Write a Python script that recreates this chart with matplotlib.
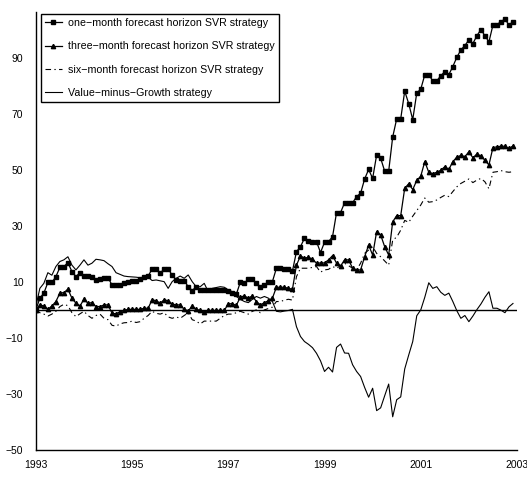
import numpy as np
import matplotlib.pyplot as plt

plt.rcParams['font.family'] = ['Liberation Sans', 'DejaVu Sans']

# monthly cumulative returns, Jan 1993 - Dec 2002
one_month = [
    0, 4.2, 6, 9.8, 9.8, 11.9, 15.2, 15.5, 16.9, 13.7,
    11.9, 13.3, 12.1, 12.1, 11.9, 10.7, 11, 11.3, 11.5, 8.9,
    8.9, 8.9, 9.5, 10.1, 10.5, 10.5, 11, 11.7, 12.1, 14.6,
    14.6, 13.1, 14.6, 14.6, 12.5, 10.7, 10.5, 10.5, 8.3, 6.9,
    8.3, 7.1, 7.1, 7.1, 7.1, 7.1, 7.1, 7.1, 6.9, 6.2,
    5.6, 9.9, 9.5, 11, 11, 9.5, 8.3, 8.9, 10.1, 10.1,
    14.9, 14.9, 14.6, 14.6, 13.9, 20.8, 22.6, 25.6, 24.8, 24.4,
    24.4, 20.5, 24.2, 24.4, 26.2, 34.8, 34.8, 38.3, 38.3, 38.3,
    40.5, 41.7, 46.8, 50.2, 47, 55.4, 54.2, 49.6, 49.6, 61.8,
    68.3, 68.3, 78.2, 73.7, 68, 77.5, 78.9, 84, 84, 81.9,
    81.9, 83.7, 85.2, 84.1, 87, 90.3, 92.9, 94.5, 96.5, 95.2,
    98, 100.2, 98, 95.8, 101.8, 102, 103, 104, 101.8, 103,
]

three_month = [
    0, 1.8, 1.4, 0.2, 1.4, 3, 6, 6.2, 7.4, 4.2,
    2.4, 1.4, 3.8, 2.4, 2.6, 1.2, 1.2, 1.8, 1.8, -1.2,
    -1.4, -0.6, -0.2, 0.2, 0.2, 0.2, 0.2, 0.6, 0.6, 3.6,
    3.3, 2.4, 3.6, 3.3, 2.1, 1.8, 1.8, 0.2, -0.4, 1.4,
    0.2, -0.2, -0.8, -0.2, -0.2, -0.2, -0.2, -0.2, 2.2, 2.2,
    1.6, 4.6, 5, 4.2, 5, 3, 1.8, 2.6, 3.3, 4.2,
    8.1, 8.1, 8.1, 7.7, 7.4, 16, 19.3, 18.5, 18.8, 18.1,
    16.7, 16.8, 16.8, 17.9, 19.4, 16.7, 15.7, 17.9, 17.9, 14.9,
    14.3, 14.3, 19, 23.2, 19.6, 28, 26.8, 22.6, 19.6, 31.5,
    33.7, 33.7, 43.5, 45.1, 43, 46.3, 47.8, 53, 49.2, 48.7,
    49.2, 49.9, 51.2, 50.2, 53, 54.6, 55.2, 54.8, 56.5, 54.4,
    55.7, 55, 53.5, 51.8, 58, 58.3, 58.5, 58.5, 57.7, 58.6,
]

six_month = [
    0, -1, -1.5, -2.2, -1.5, -0.5, 1.2, 2, 1.5, -1,
    -2.4, -1.4, -0.5, -2, -3, -2, -1.5, -3, -3.5, -5.5,
    -5.8, -5, -4.6, -4.5, -4, -4.5, -4.2, -3, -2, -0.5,
    -1.2, -1.5, -1, -2.5, -3, -2.5, -3, -2, -1, -3.5,
    -4, -5, -4, -4, -4, -4, -3, -2, -1.5, -1.5,
    -1, -0.5, -1, -1.5, -0.5, 0, -1, 0, 0.5, 1,
    3, 3, 3.5, 3.8, 3.5, 11.9, 14.9, 14.9, 14.9, 15.2,
    15.5, 13.5, 14.3, 14.5, 15.5, 14.9, 15.8, 16.7, 15.8, 14.9,
    14.3, 16.7, 20.2, 21.4, 22.6, 20.2, 19, 17.5, 16, 25,
    26, 28.5, 32, 31.3, 33.5, 35.5, 37.5, 40, 38.5, 38.7,
    39.3, 40.2, 41, 40.5, 42.3, 44, 45.2, 46, 46.8, 45.5,
    46.4, 47, 45.8, 43.3, 49.2, 49.4, 49.8, 49.4, 49.2, 49.4,
]

value_growth = [
    1.2, 7.7, 9.5, 13.3, 12.4, 15.5, 17.3, 17.9, 19, 16,
    14.3, 16, 17.9, 16, 16.7, 18.1, 17.9, 17.6, 16.5, 15.5,
    13.3, 12.7, 12.1, 11.9, 11.8, 11.7, 11.5, 11.3, 11.7, 10.5,
    10.7, 10.4, 10.1, 7.7, 10.1, 11.3, 12.1, 11.3, 12.5, 10.1,
    8.3, 8.3, 9.5, 6.5, 7.7, 8, 8.3, 8.1, 7.1, 6.5,
    4.8, 3.8, 3, 2.6, 3.8, 4.8, 4.2, 4.8, 4.2, 3,
    -0.5, -0.7, -0.4, -0.2, 0.2, -6, -9.5, -11.3, -12.3, -13.5,
    -15.5, -18.2, -22, -20.5, -22.2, -13.4, -12.2, -15.4, -15.5, -19.6,
    -22, -23.8, -27.7, -31.2, -28, -36, -35, -30.7, -26.5, -38.2,
    -32.1, -31.1, -21.1, -16.1, -11.3, -2.1, 0, 4.5, 9.7, 7.7,
    8.3, 6.3, 5.2, 6, 3, -0.3, -3, -2, -4.2, -2.2,
    0.1, 2.1, 4.5, 6.5, 0.6, 0.6, -0.1, -1, 1.1, 2.3,
]

dates = 1993 + np.arange(len(one_month)) / 12.0

year_ticks = [1993, 1995, 1997, 1999, 2001, 2003]
y_ticks = [-50, -30, -10, 10, 30, 50, 70, 90]

fig = plt.figure(figsize=(5.27, 4.78), dpi=100)
ax = fig.add_axes([0.068, 0.059, 0.913, 0.916])

ax.plot(dates, one_month, color='black', lw=0.9, marker='s', markersize=2.6,
        label='one\u2212month forecast horizon SVR strategy')
ax.plot(dates, three_month, color='black', lw=0.9, marker='^', markersize=3.1,
        label='three\u2212month forecast horizon SVR strategy')
ax.plot(dates, six_month, color='black', lw=0.8, dashes=(5, 3, 1.2, 3),
        label='six\u2212month forecast horizon SVR strategy')
ax.plot(dates, value_growth, color='black', lw=0.8,
        label='Value\u2212minus\u2212Growth strategy')
ax.axhline(0, color='black', lw=1.0)

ax.set_xlim(1993, 2003)
ax.set_ylim(-50, 106.5)
ax.set_xticks(year_ticks)
ax.set_yticks(y_ticks)
ax.set_yticklabels([str(v).replace('-', '\u2212') for v in y_ticks])
ax.tick_params(length=0, labelsize=7.5, pad=7)
ax.tick_params(axis='y', pad=9)

for s in ['top', 'right']:
    ax.spines[s].set_visible(False)
for s in ['left', 'bottom']:
    ax.spines[s].set_linewidth(1.0)

leg = ax.legend(loc='upper left', bbox_to_anchor=(0.0105, 0.995), fontsize=7.7,
                frameon=True, fancybox=False, edgecolor='black', framealpha=1,
                labelspacing=1.25, handlelength=1.6, handletextpad=0.6,
                borderpad=0.35, borderaxespad=0)
leg.get_frame().set_linewidth(1.0)

fig.savefig('out.png', dpi=100)
